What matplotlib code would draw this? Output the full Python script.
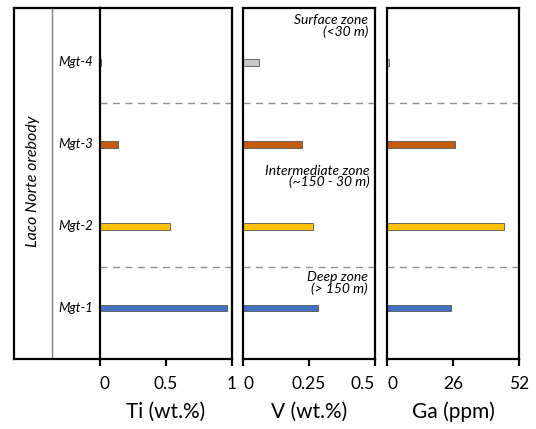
import matplotlib.pyplot as plt

# Muestras (de abajo hacia arriba)
samples = ["Mgt-1", "Mgt-2", "Mgt-3", "Mgt-4"]
colors = ["#4472C4", "#FFC000", "#C55A11", "#C8C8C8"]

ti = [0.96, 0.53, 0.14, 0.01]
v = [0.284, 0.265, 0.222, 0.06]
ga = [25.2, 46.1, 26.8, 0.6]

panels = [
    ("Ti (wt.%)", ti, 1.0, [0, 0.5, 1], ["0", "0.5", "1"]),
    ("V (wt.%)", v, 0.5, [0, 0.25, 0.5], ["0", "0.25", "0.5"]),
    ("Ga (ppm)", ga, 52, [0, 26, 52], ["0", "26", "52"]),
]

zone_breaks = [1.5, 3.5]

plt.rcParams['font.family'] = ['Lato', 'DejaVu Sans']

W, H = 536, 429
fig = plt.figure(figsize=(W / 100, H / 100), dpi=100)

def box(x0, x1, y0=8, y1=359):
    return [x0 / W, 1 - y1 / H, (x1 - x0) / W, (y1 - y0) / H]

ylim = (0.378, 4.66)
lw = 1.6

# Columna de etiquetas
lab = fig.add_axes(box(14, 100))
lab.set_xlim(0, 86)
lab.set_ylim(*ylim)
lab.set_xticks([])
lab.set_yticks([])
for s in ["left", "top", "bottom"]:
    lab.spines[s].set_linewidth(lw)
lab.spines["right"].set_visible(False)
lab.axvline(38, color="#808080", lw=1.0)
lab.text(19, 2.55, "Laco Norte orebody", rotation=90, ha="center", va="center",
         style="italic", fontsize=11.5)
for i, s in enumerate(samples):
    lab.text(79, i + 1, s, ha="right", va="center", style="italic", fontsize=9.5)

lefts = [100, 243, 387]
for (label, vals, xmax, ticks, tlabels), x0 in zip(panels, lefts):
    ax = fig.add_axes(box(x0, x0 + 132))
    ax.barh(range(1, 5), vals, height=0.085, color=colors,
            edgecolor="#555555", linewidth=0.6)
    for yb in zone_breaks:
        ax.axhline(yb, color="#909090", lw=1.0, ls=(0, (5, 4)))
    ax.set_xlim(0, xmax)
    ax.set_ylim(*ylim)
    ax.set_yticks([])
    ax.set_xticks(ticks)
    ax.set_xticklabels(tlabels, fontsize=12.5)
    ax.tick_params(axis="x", length=5, width=lw, pad=7, direction="out")
    tl = ax.get_xticklabels()
    tl[0].set_ha("left")
    if x0 == 243:
        tl[-1].set_ha("right")
    for s in ax.spines.values():
        s.set_linewidth(lw)
    ax.set_xlabel(label, fontsize=15, labelpad=7)
    if x0 == 243:
        kw = dict(ha="right", va="center", style="italic", fontsize=10,
                  transform=ax.transAxes, linespacing=0.9)
        ax.text(0.947, 0.949, "Surface zone\n(<30 m)", **kw)
        ax.text(0.962, 0.52, "Intermediate zone\n(~150 - 30 m)", **kw)
        ax.text(0.947, 0.2165, "Deep zone\n(> 150 m)", **kw)

fig.savefig("out.png", dpi=100)
